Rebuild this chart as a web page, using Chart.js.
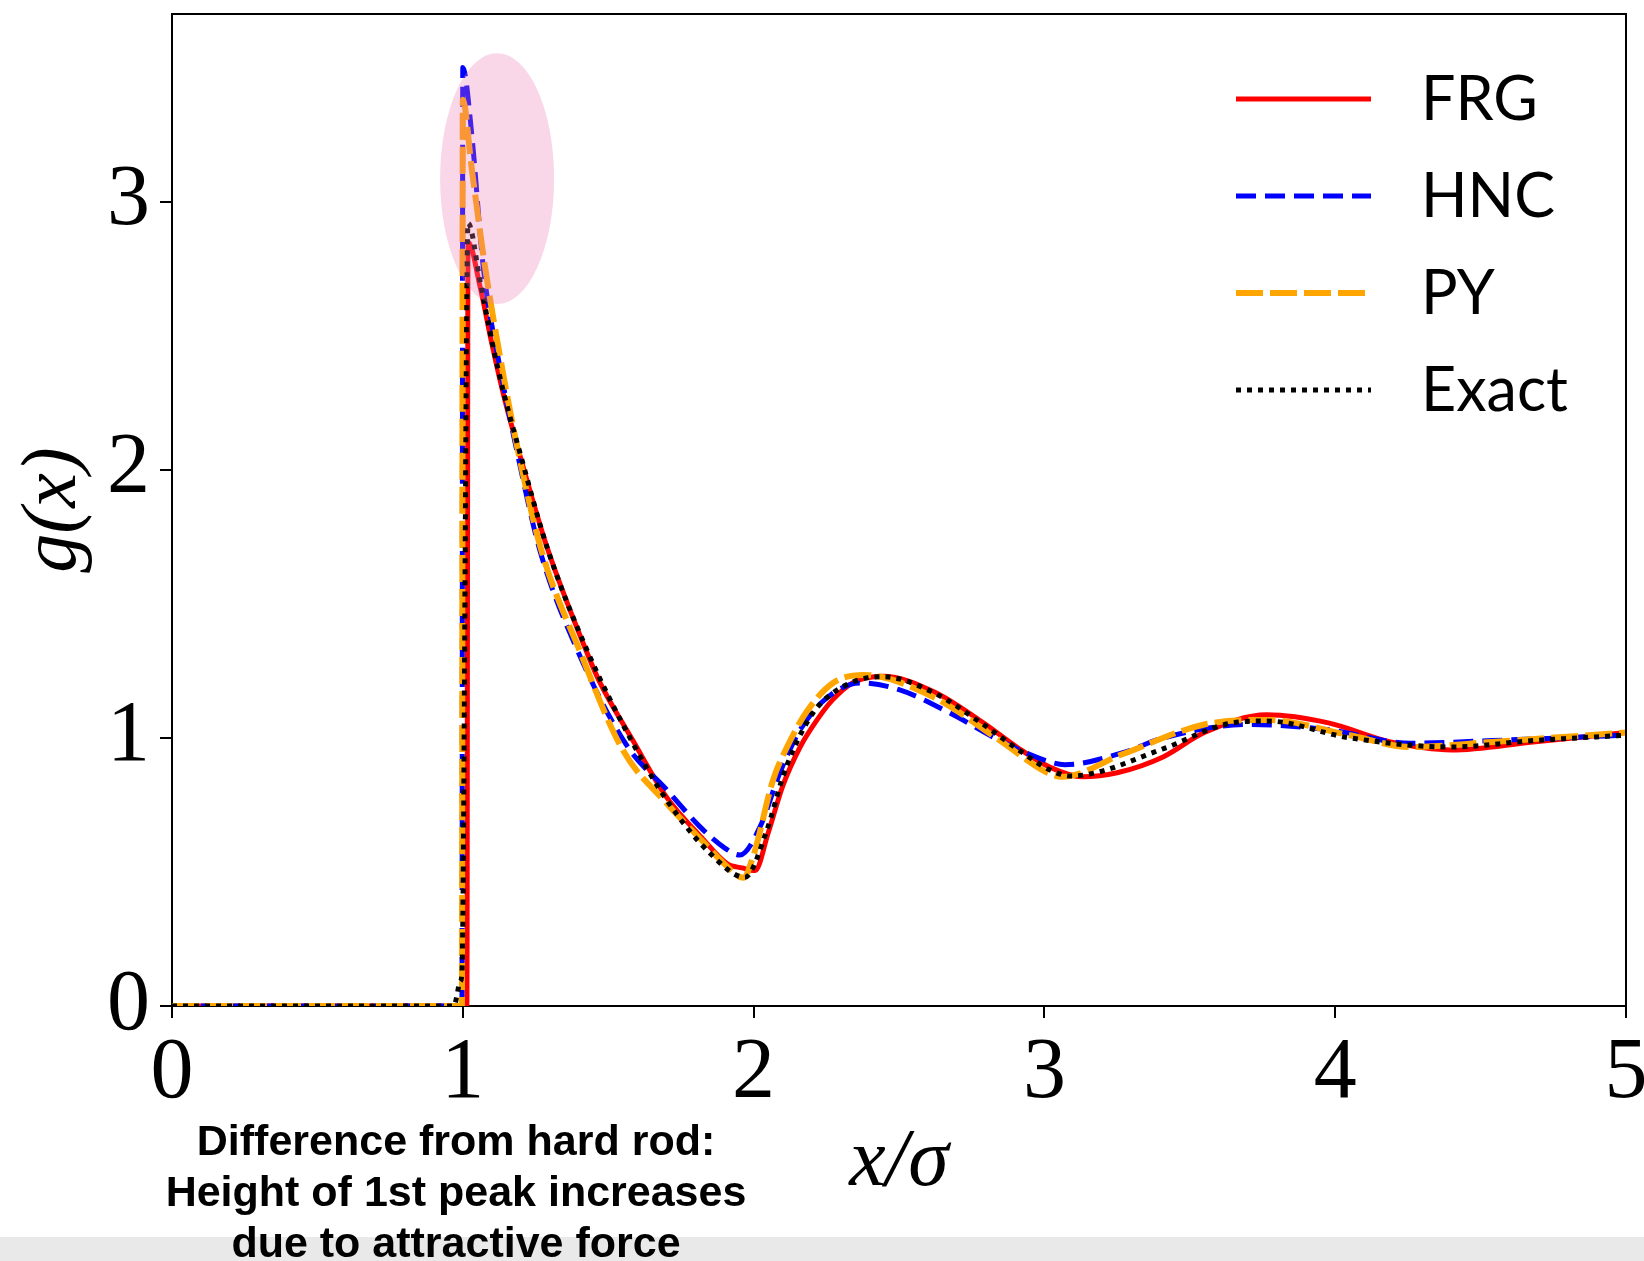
<!DOCTYPE html>
<html lang="en">
<head>
  <meta charset="UTF-8">
  <title>g(x) - FRG / HNC / PY / Exact</title>
  <style>
    html, body { margin: 0; padding: 0; background: #fff; }
    #wrap { width: 1644px; height: 1261px; }
  </style>
</head>
<body>
  <div id="wrap"><canvas id="gofx" width="1644" height="1261"></canvas></div>

  <script src="https://cdn.jsdelivr.net/npm/chart.js"></script>
  <script>
    // values
    const frgX = [0, 1.0, 1.014, 1.018, 1.06, 1.10, 1.14, 1.2, 1.29, 1.43, 1.47, 1.585, 1.70, 1.82, 1.91, 1.96, 2.005, 2.05, 2.10, 2.16, 2.22, 2.27, 2.34, 2.445, 2.62, 2.79, 2.905, 3.02, 3.13, 3.25, 3.41, 3.55, 3.765, 3.98, 4.19, 4.40, 4.68, 5.0];
    const frgY = [0, 0, 0, 2.85, 2.68, 2.47, 2.28, 2.04, 1.71, 1.31, 1.21, 0.99, 0.78, 0.63, 0.53, 0.515, 0.505, 0.645, 0.82, 0.966, 1.07, 1.14, 1.205, 1.23, 1.172, 1.056, 0.966, 0.89, 0.855, 0.87, 0.93, 1.02, 1.086, 1.055, 0.985, 0.955, 0.985, 1.02];

    const hncX = [0, 0.997, 1.0, 1.03, 1.07, 1.128, 1.186, 1.265, 1.393, 1.565, 1.702, 1.816, 1.90, 1.953, 2.022, 2.09, 2.16, 2.252, 2.366, 2.50, 2.675, 2.847, 3.02, 3.07, 3.27, 3.41, 3.70, 3.98, 4.26, 4.54, 5.0];
    const hncY = [0, 0, 3.50, 3.26, 2.76, 2.38, 2.07, 1.70, 1.33, 0.97, 0.806, 0.668, 0.59, 0.563, 0.668, 0.869, 1.03, 1.149, 1.205, 1.18, 1.093, 0.99, 0.91, 0.90, 0.945, 1.0, 1.05, 1.03, 0.98, 0.99, 1.01];

    const pyX = [0, 0.997, 1.0, 1.03, 1.076, 1.135, 1.19, 1.27, 1.40, 1.55, 1.70, 1.82, 1.90, 1.964, 1.998, 2.067, 2.115, 2.184, 2.273, 2.376, 2.617, 2.847, 3.01, 3.06, 3.27, 3.55, 3.765, 4.05, 4.26, 4.54, 5.0];
    const pyY = [0, 0, 3.38, 3.13, 2.76, 2.38, 2.07, 1.70, 1.33, 0.955, 0.757, 0.62, 0.53, 0.478, 0.556, 0.843, 0.966, 1.10, 1.205, 1.235, 1.153, 0.99, 0.87, 0.855, 0.94, 1.05, 1.067, 1.01, 0.966, 0.985, 1.02];

    const exactX = [0, 0.97, 0.98, 0.99, 0.997, 1.018, 1.06, 1.10, 1.14, 1.2, 1.29, 1.43, 1.585, 1.70, 1.85, 1.97, 2.046, 2.097, 2.136, 2.204, 2.273, 2.39, 2.445, 2.617, 2.79, 2.905, 3.02, 3.09, 3.41, 3.62, 3.765, 4.05, 4.40, 4.68, 5.0];
    const exactY = [0, 0, 0.04, 0.09, 0.12, 2.92, 2.70, 2.48, 2.29, 2.05, 1.71, 1.32, 0.98, 0.77, 0.57, 0.48, 0.657, 0.843, 0.955, 1.093, 1.168, 1.224, 1.228, 1.17, 1.05, 0.96, 0.88, 0.858, 0.96, 1.05, 1.063, 1.0, 0.966, 0.99, 1.01];

    const xTicks = [0, 1, 2, 3, 4, 5];
    const yTicks = [0, 1, 2, 3];
    const noteLines = ['Difference from hard rod:', 'Height of 1st peak increases', 'due to attractive force'];

    const pts = (xs, ys) => xs.map((x, i) => ({ x: x, y: ys[i] }));

    // grey strip at the bottom of the screenshot
    const backdrop = {
      id: 'backdrop',
      beforeDraw(chart) {
        const c = chart.ctx;
        c.save();
        c.fillStyle = '#fff';
        c.fillRect(0, 0, chart.width, chart.height);
        c.fillStyle = '#e9e9e9';
        c.fillRect(0, 1237, chart.width, chart.height - 1237);
        c.restore();
      }
    };

    // pink highlight over the first peak, plus top/right spines
    const overlay = {
      id: 'overlay',
      afterDatasetsDraw(chart) {
        const c = chart.ctx, xs = chart.scales.x, ys = chart.scales.y, a = chart.chartArea;
        const cx = xs.getPixelForValue(1.118), cy = ys.getPixelForValue(3.086);
        const rx = xs.getPixelForValue(1.314) - cx, ry = cy - ys.getPixelForValue(3.554);
        c.save();
        c.fillStyle = 'rgba(235, 120, 180, 0.3)';
        c.beginPath();
        c.ellipse(cx, cy, rx, ry, 0, 0, Math.PI * 2);
        c.fill();
        c.strokeStyle = '#000';
        c.lineWidth = 2;
        c.beginPath();
        c.moveTo(a.left, a.top);
        c.lineTo(a.right, a.top);
        c.lineTo(a.right, a.bottom);
        c.stroke();
        c.restore();
      },
      afterDraw(chart) {
        const c = chart.ctx;
        c.save();
        // legend
        chart.data.datasets.forEach((ds, i) => {
          const y = 99 + i * 97;
          c.strokeStyle = ds.borderColor;
          c.lineWidth = ds.borderWidth;
          c.setLineDash(ds.borderDash || []);
          c.beginPath();
          c.moveTo(1236, y);
          c.lineTo(1371, y);
          c.stroke();
          c.setLineDash([]);
          c.fillStyle = '#000';
          c.font = '61px Lato';
          c.textBaseline = 'alphabetic';
          c.fillText(ds.label, 1421, y + 21);
        });
        // note under the x axis
        c.font = 'bold 43px "Liberation Sans"';
        c.textAlign = 'center';
        c.fillStyle = '#000';
        noteLines.forEach((t, i) => c.fillText(t, 456, 1155 + i * 51));
        c.restore();
      }
    };

    const tickFont = { family: 'Liberation Serif', size: 86 };

    new Chart(document.getElementById('gofx'), {
      type: 'line',
      data: {
        datasets: [
          { label: 'FRG', data: pts(frgX, frgY), borderColor: '#ff0000', borderWidth: 5, order: 3 },
          { label: 'HNC', data: pts(hncX, hncY), borderColor: '#0000ff', borderWidth: 5, borderDash: [20, 9], order: 2 },
          { label: 'PY', data: pts(pyX, pyY), borderColor: '#ffa500', borderWidth: 6, borderDash: [27, 7], order: 1 },
          { label: 'Exact', data: pts(exactX, exactY), borderColor: '#000000', borderWidth: 5, borderDash: [5, 6], order: 0 }
        ]
      },
      options: {
        responsive: false,
        animation: false,
        devicePixelRatio: 1,
        layout: { padding: { left: 0, right: 18, top: 14, bottom: 0 } },
        elements: {
          point: { radius: 0 },
          line: { cubicInterpolationMode: 'monotone', fill: false }
        },
        plugins: { legend: { display: false }, tooltip: { enabled: false } },
        scales: {
          x: {
            type: 'linear',
            min: 0,
            max: 5,
            afterBuildTicks: s => { s.ticks = xTicks.map(v => ({ value: v })); },
            afterFit: s => { s.height = 255; s.paddingLeft = 0; s.paddingRight = 0; },
            ticks: { font: tickFont, color: '#000', padding: 5, maxRotation: 0, autoSkip: false },
            grid: { drawOnChartArea: false, drawTicks: true, tickLength: 12, color: '#000', lineWidth: 2 },
            border: { display: true, color: '#000', width: 2 },
            title: {
              display: true, text: 'x/σ', color: '#000',
              font: { family: 'Liberation Serif', size: 82, style: 'italic' },
              padding: { top: 0, bottom: 48 }
            }
          },
          y: {
            type: 'linear',
            min: 0,
            max: 3.7,
            afterBuildTicks: s => { s.ticks = yTicks.map(v => ({ value: v })); },
            afterFit: s => { s.width = 172; s.paddingTop = 0; s.paddingBottom = 0; },
            ticks: { font: tickFont, color: '#000', padding: 10, autoSkip: false },
            grid: { drawOnChartArea: false, drawTicks: true, tickLength: 12, color: '#000', lineWidth: 2 },
            border: { display: true, color: '#000', width: 2 },
            title: {
              display: true, text: 'g(x)', color: '#000',
              font: { family: 'Liberation Serif', size: 78, style: 'italic' },
              padding: { top: 8, bottom: 0 }
            }
          }
        }
      },
      plugins: [backdrop, overlay]
    });
  </script>
</body>
</html>
